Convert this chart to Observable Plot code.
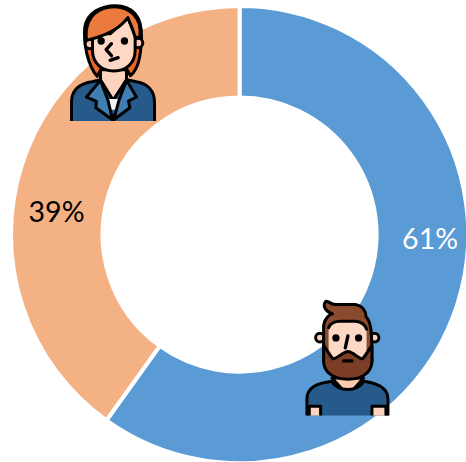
<!DOCTYPE html>
<html><head><meta charset="utf-8">
<script src="https://cdn.jsdelivr.net/npm/d3@7"></script>
<script src="https://cdn.jsdelivr.net/npm/@observablehq/plot@0.6"></script>
<style>html,body{margin:0;padding:0;background:#fff}svg{display:block}</style>
</head><body><div id="chart"></div>
<script>
const categories = ["Men", "Women"];
const drawnShares = [59.9, 40.1];
const labels = ["61%", "39%"];
const labelX = [0.831, -0.803];
const labelY = [-0.02, 0.096];
const labelColors = ["#ffffff", "#000000"];
const sliceColors = ["#5b9bd5", "#f4b183"];
const iconX = [0.471, -0.567];
const iconY = [-0.516, 0.763];

const cx = 239.6, cy = 234.6, R = 228.6, innerRatio = 137 / 228.6;

const womanSvg = `<svg xmlns="http://www.w3.org/2000/svg" viewBox="0 0 360 362" width="360" height="362">
<g stroke="#000" stroke-width="9" stroke-linejoin="round" stroke-linecap="round">
<path fill="#e8662c" d="M140 228C112 195 98 130 103 80C110 38 150 16 195 16C245 16 276 48 273 112C271 165 265 205 240 226L225 200H155Z"/>
<circle cx="118" cy="131" r="14" fill="#fbc9ae"/><circle cx="263" cy="128" r="14" fill="#fbc9ae"/>
<path fill="#fcd3bd" d="M150 208V245L188 300L228 245V208Z"/>
<path fill="#fdd8c5" d="M126 100V150C126 190 155 212 190 212C226 212 254 190 254 150V105L232 52L180 100Z"/>
<path fill="#ec7a3c" d="M108 120C103 80 115 40 160 24C200 12 250 22 266 70C270 90 270 100 268 112L254 110C248 90 240 70 232 52C205 90 160 108 108 120Z"/>
<path fill="#255a8a" d="M63 385V305C63 268 90 248 125 244L150 238L188 300L228 238L258 244C292 250 312 272 312 305V385Z"/>
<path fill="#f3f3f3" stroke="none" d="M166 296H212L203 328H178Z"/>
<path fill="#3f7db2" d="M150 240L108 290L138 303L136 322L186 358L172 298Z"/>
<path fill="#3f7db2" d="M228 240L258 290L234 302L238 322L190 358L206 298Z"/>
<path fill="none" d="M188 345V385"/>
<circle cx="152" cy="122" r="11" fill="#000" stroke="none"/><circle cx="222" cy="122" r="11" fill="#000" stroke="none"/>
<path fill="none" d="M183 130L167 148L183 166M179 180L203 172" stroke-width="10"/>
</g></svg>`;

const manSvg = `<svg xmlns="http://www.w3.org/2000/svg" viewBox="0 0 315 375" width="315" height="375">
<g stroke="#000" stroke-width="9" stroke-linejoin="round" stroke-linecap="round">
<path fill="#fbc9ae" d="M110 262L158 315L205 262Z"/>
<path fill="#255a8a" d="M35 395V325C35 292 62 278 110 272C125 305 190 305 205 272C250 278 278 292 278 325V395Z"/>
<path fill="#fcd3bd" d="M42 347H76V395H42ZM230 347H272V395H230Z"/>
<circle cx="74" cy="141" r="13" fill="#fcd3bd"/><circle cx="238" cy="141" r="13" fill="#fcd3bd"/>
<path fill="#8a4a2d" d="M85 212V110C85 88 100 72 112 70C90 62 80 45 92 32C104 30 102 44 125 42H180C202 46 212 62 212 78C228 95 230 120 230 212Z"/>
<path fill="#fdd8c5" stroke="none" d="M100 215V112C104 98 120 92 135 92H180C198 94 210 102 214 116V215Z"/>
<path fill="none" d="M100 112C104 98 120 92 135 92H180C198 94 210 102 214 116"/>
<path fill="#7b3d26" d="M85 165C92 172 100 190 113 205C125 205 142 184 158 183C174 184 190 205 202 205C215 190 223 172 230 165V212C230 245 200 266 158 266C115 266 85 245 85 212Z"/>
<circle cx="122" cy="142" r="11" fill="#000" stroke="none"/><circle cx="190" cy="142" r="11" fill="#000" stroke="none"/>
<path fill="none" d="M158 136L150 172M145 211H170" stroke-width="10"/>
</g></svg>`;

const iconSrc = [manSvg, womanSvg].map(s => "data:image/svg+xml;charset=utf-8," + encodeURIComponent(s));
const iconW = [105, 120];
const iconH = [125, 120.67];

const pie = d3.pie().sort(null).value((d) => d)(drawnShares);

function ring(index, scales) {
  const rx = scales.x(1) - scales.x(0);
  const arc = d3.arc().innerRadius(rx * innerRatio).outerRadius(rx);
  const g = d3.create("svg:g").attr("transform", `translate(${scales.x(0)},${scales.y(0)})`);
  g.selectAll("path").data(pie).join("path")
    .attr("d", arc)
    .attr("fill", (d) => sliceColors[d.index])
    .attr("stroke", "#fff")
    .attr("stroke-width", 4);
  return g.node();
}

const plot = Plot.plot({
  width: 466, height: 462,
  margin: 0,
  style: {background: "#fff"},
  x: {domain: [-1, 1], range: [cx - R, cx + R], axis: null},
  y: {domain: [-1, 1], range: [cy + R, cy - R], axis: null},
  marks: [
    ring,
    Plot.image(categories, {
      x: (d, i) => iconX[i], y: (d, i) => iconY[i],
      src: (d, i) => iconSrc[i],
      width: (d, i) => iconW[i], height: (d, i) => iconH[i],
      preserveAspectRatio: "none"
    }),
    Plot.text(labels, {
      x: (d, i) => labelX[i], y: (d, i) => labelY[i],
      text: (d) => d, fill: (d, i) => labelColors[i],
      fontSize: 28.5, fontFamily: "Lato", textAnchor: "middle"
    })
  ]
});
document.getElementById("chart").append(plot);
</script></body></html>
